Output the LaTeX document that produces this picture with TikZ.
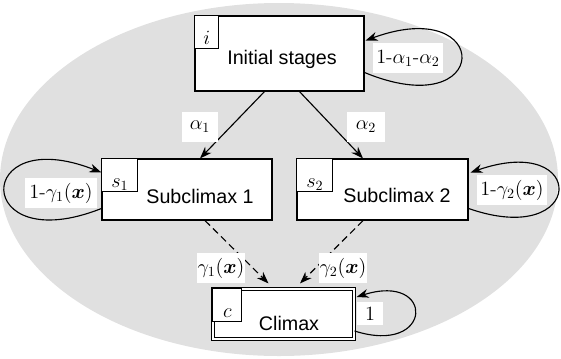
\documentclass[tikz,border=0pt]{standalone}
\usepackage{fontspec}
\setsansfont{Liberation Sans}
\usepackage{amsmath}
\usetikzlibrary{arrows.meta,calc,positioning}

\tikzset{
  stato/.style={draw, line width=0.8pt, fill=white, inner sep=0pt},
  etich/.style={draw, line width=0.6pt, fill=white, inner sep=0pt, anchor=north west,
    text height=0.72cm, text depth=0.1cm, font=\fontsize{14}{16}\selectfont},
  testo/.style={anchor=base, inner sep=0pt, font=\sffamily\fontsize{14}{16}\selectfont},
  peso/.style={fill=white, inner sep=0pt, minimum height=0.75cm, font=\fontsize{14}{16}\selectfont},
  freccia/.style={-{Stealth[length=3mm,width=2.2mm]}, line width=0.8pt},
}

\begin{document}
\begin{tikzpicture}[x=0.025cm, y=-0.025cm]
	\useasboundingbox (0,0) rectangle (561,358);
	
	% Sfondo
	\fill[black!12] (279,179.5) ellipse [x radius=279, y radius=176.5];
	
	% Stati
	\node[stato, minimum width=4.225cm, minimum height=1.875cm] (ini) at (279.5,53.5) {};
	\node[stato, minimum width=4.25cm, minimum height=1.525cm] (sub1) at (187,189.5) {};
	\node[stato, minimum width=4.275cm, minimum height=1.525cm] (sub2) at (382.5,189.5) {};
	\node[stato, double, double distance=1.2pt, minimum width=3.525cm, minimum height=1.25cm] (cli) at (283.5,314) {};
	
	\node[etich, minimum width=0.6cm] (ti) at (ini.north west) {$i$};
	\node[etich, minimum width=0.9cm] (ts1) at (sub1.north west) {$s_1$};
	\node[etich, minimum width=0.9cm] (ts2) at (sub2.north west) {$s_2$};
	\node[etich, minimum width=0.725cm] (tc) at (cli.north west) {$c$};
	
	\node[testo] (nini) at (282,64) {Initial stages};
	\node[testo] (nsub1) at (200,203) {Subclimax 1};
	\node[testo] (nsub2) at (397,202) {Subclimax 2};
	\node[testo] (ncli) at (289,330) {Climax};
	
	% Transizioni
	\draw[freccia] ($(ini.south)+(-15,0)$) -- ($(sub1.north)+(13,0)$);
	\draw[freccia] ($(ini.south)+(20,0)$) -- ($(sub2.north)+(-19.5,0)$);
	\draw[freccia, dash pattern=on 5pt off 3pt] ($(sub1.south)+(18,0)$) -- ($(cli.north)+(-15,-5)$);
	\draw[freccia, dash pattern=on 5pt off 3pt] ($(sub2.south)+(-19.5,0)$) -- ($(cli.north)+(16.5,-5)$);
	
	% Permanenza
	\draw[freccia] ($(ini.east)+(0,19)$) .. controls ($(ini.east)+(128,72)$) and ($(ini.east)+(129,-60)$) .. ($(ini.east)+(1,-13)$);
	\draw[freccia] ($(sub1.west)+(0,19)$) .. controls ($(sub1.west)+(-129,70)$) and ($(sub1.west)+(-129,-68)$) .. ($(sub1.west)+(0,-17)$);
	\draw[freccia] ($(sub2.east)+(0,19)$) .. controls ($(sub2.east)+(118,60)$) and ($(sub2.east)+(120,-58)$) .. ($(sub2.east)+(2,-17)$);
	\draw[freccia] ($(cli.east)+(0,17)$) .. controls ($(cli.east)+(79,42)$) and ($(cli.east)+(81,-42)$) .. ($(cli.east)+(2,-17)$);
	
	% Probabilita
	\node[peso, minimum width=0.9cm] (la1) at (200,127) {$\alpha_1$};
	\node[peso, minimum width=0.925cm] (la2) at (366,127) {$\alpha_2$};
	\node[peso, minimum width=1.2cm] (lg1) at (221,268) {$\gamma_1(\boldsymbol{x})$};
	\node[peso, minimum width=1.175cm] (lg2) at (343,268) {$\gamma_2(\boldsymbol{x})$};
	\node[peso, minimum width=1.75cm] (lini) at (408,58) {$1\text{-}\alpha_1\text{-}\alpha_2$};
	\node[peso, minimum width=1.8cm] (lsub1) at (61,193) {$1\text{-}\gamma_1(\boldsymbol{x})$};
	\node[peso, minimum width=1.75cm] (lsub2) at (512,190) {$1\text{-}\gamma_2(\boldsymbol{x})$};
	\node[peso, minimum width=0.625cm, minimum height=0.575cm] (lcli) at (370,313.5) {$1$};
\end{tikzpicture}
\end{document}
